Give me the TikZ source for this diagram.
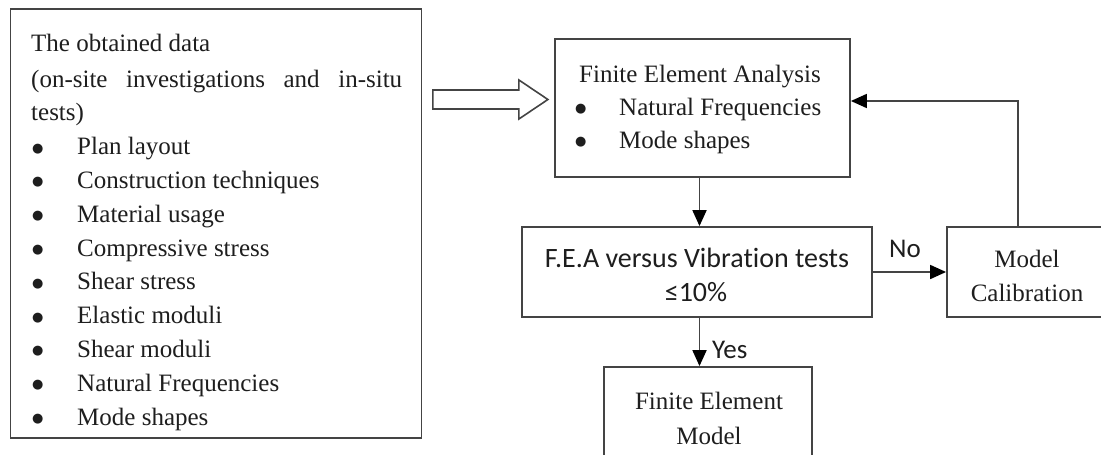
\documentclass[tikz,border=0pt]{standalone}
\usepackage{fontspec}
\setmainfont{Liberation Serif}
\newfontfamily\sansC[Ligatures=NoCommon]{Carlito}
\newfontfamily\dvs{DejaVu Sans}
\usetikzlibrary{arrows.meta,calc}
\definecolor{linec}{HTML}{444444}
\definecolor{txtc}{HTML}{1E1E1E}
\newcommand{\bigbul}{\raisebox{2.5pt}{\dvs\fontsize{13}{13}\selectfont ●}}
\begin{document}
\begin{tikzpicture}[x=1pt,y=-1pt,
  box/.style={draw=linec, line width=1.8pt, inner sep=0pt, fill=white},
  st/.style={inner sep=0pt, text=txtc, font=\fontsize{25}{30}\selectfont},
  ss/.style={inner sep=0pt, text=txtc, font=\sansC\fontsize{28}{34}\selectfont},
  sl/.style={inner sep=0pt, text=txtc, font=\sansC\fontsize{27}{32}\selectfont},
  conn/.style={draw=linec, line width=1.8pt, -{Triangle[length=16pt,width=14pt,color=black]}},
  hollow/.style={draw=linec, line width=1.6pt, fill=white, line join=miter}]
\clip (0,0) rectangle (1101,455);
\fill[white] (0,0) rectangle (1101,455);

% boxes
\node[box, minimum width=411pt, minimum height=429pt] (data) at (216,223.5) {};
\node[box, minimum width=295pt, minimum height=138pt] (fea) at (702.5,108) {};
\node[box, minimum width=350pt, minimum height=90pt] (cmp) at (697,272) {};
\node[box, minimum width=168pt, minimum height=90pt] (cal) at (1031,272) {};
\node[box, minimum width=208pt, minimum height=113pt] (fin) at (708,423.5) {};

% left box text
\node[st, anchor=base west] (t1) at (31,51) {The obtained data};
\node[st, anchor=base west] (t2) at (31,87) {\makebox[371pt][s]{(on-site investigations and in-situ}};
\node[st, anchor=base west] (t3) at (31,120.8) {tests)};
\foreach \txt [count=\i] in {Plan layout, Construction techniques, Material usage,
  Compressive stress, Shear stress, Elastic moduli, Shear moduli,
  Natural Frequencies, Mode shapes} {
  \node[st, anchor=base west] (bl\i) at (32,{120.8+33.8*\i}) {\bigbul};
  \node[st, anchor=base west] (lt\i) at (77,{120.8+33.8*\i}) {\txt};
}

% FEA box text
\node[st, anchor=base] (f1) at (700,82) {Finite Element Analysis};
\node[st, anchor=base west] (fb1) at (575,115) {\bigbul};
\node[st, anchor=base west] (f2) at (619,115) {Natural Frequencies};
\node[st, anchor=base west] (fb2) at (575,148) {\bigbul};
\node[st, anchor=base west] (f3) at (619,148) {Mode shapes};

% comparison box text
\node[ss, anchor=base] (c1) at (697,267) {F.E.A versus Vibration tests};
\node[ss, anchor=base] (c2) at (696,301) {≤10\%};

% calibration text
\node[st, anchor=base] (m1) at (1027,267) {Model};
\node[st, anchor=base] (m2) at (1027,301) {Calibration};

% final text
\node[st, anchor=base] (n1) at (709,409) {Finite Element};
\node[st, anchor=base] (n2) at (709,444) {Model};

% hollow arrow
\coordinate (h0) at ($(data.east |- 0,99.5)+(10.5,0)$);
\draw[hollow] (h0) ++(0,-9.5) -- ++(86,0) -- ++(0,-10) -- ++(29,19.5)
  -- ++(-29,19.5) -- ++(0,-10) -- ++(-86,0) -- cycle;

% connectors
\coordinate (ax) at (699.5,0);
\coordinate (rt) at (1018,101);
\draw[conn] (fea.south -| ax) -- (cmp.north -| ax);
\draw[conn] (cmp.south -| ax) -- (fin.north -| ax);
\draw[conn] (cmp.east) -- (cal.west);
\draw[conn] (cal.north -| rt) |- (fea.east |- rt);

% labels
\node[sl, anchor=base] (no) at (905,257) {No};
\node[sl, anchor=base west] (yes) at (712,358) {Yes};
\end{tikzpicture}
\end{document}
